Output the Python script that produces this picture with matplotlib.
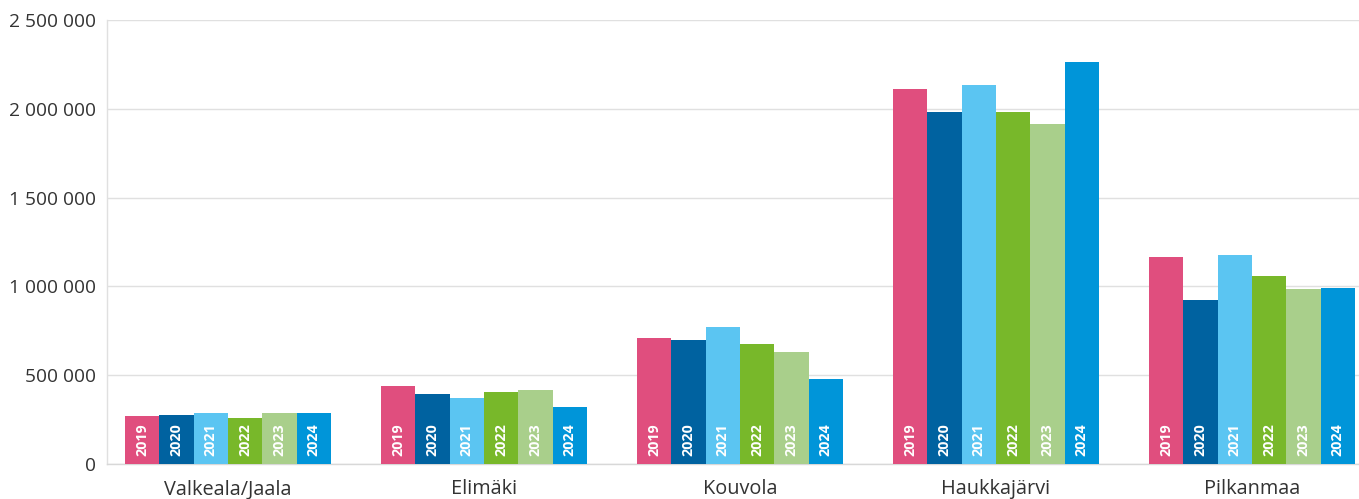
import matplotlib
matplotlib.use("Agg")
import matplotlib.pyplot as plt
import numpy as np
from matplotlib.ticker import FuncFormatter

plt.rcParams['font.family'] = ['Open Sans', 'DejaVu Sans']

categories = ["Valkeala/Jaala", "Elimäki", "Kouvola", "Haukkajärvi", "Pilkanmaa"]
years = ["2019", "2020", "2021", "2022", "2023", "2024"]
values = {
    "2019": [270000, 439000, 709000, 2111000, 1166000],
    "2020": [276000, 394000, 698000, 1982000, 923000],
    "2021": [285000, 372000, 771000, 2134000, 1177000],
    "2022": [259000, 405000, 676000, 1982000, 1059000],
    "2023": [285000, 417000, 631000, 1914000, 985000],
    "2024": [285000, 321000, 479000, 2264000, 991000],
}
colors = ["#E04E7E", "#0062A0", "#5BC5F2", "#78B82A", "#A9CF8B", "#0095D9"]
yticks = [0, 500000, 1000000, 1500000, 2000000, 2500000]

W, H = 1359, 499
fig = plt.figure(figsize=(W/100, H/100), dpi=100)
ax = fig.add_axes([107/W, (H-464)/H, (W-107)/W, (464-20)/H])

x = np.arange(len(categories))
bw = 0.134
n = len(years)
for i, (yr, c) in enumerate(zip(years, colors)):
    pos = x + (i - (n-1)/2) * bw
    ax.bar(pos, values[yr], width=bw, color=c, zorder=3, linewidth=0)
    for p in pos:
        ax.annotate(yr, (p, 0), xytext=(0, 5.5), textcoords='offset points',
                    rotation=90, ha='center', va='bottom', color='white',
                    fontsize=10.3, fontweight='bold', zorder=4)

ax.set_xlim((107-228)/256, (W-228)/256)
ax.set_ylim(0, 2500000)
ax.set_yticks(yticks)
ax.yaxis.set_major_formatter(FuncFormatter(lambda v, _: f"{int(v):,}".replace(",", " ")))
ax.set_xticks(x)
ax.set_xticklabels(categories)
ax.tick_params(axis='both', length=0, colors='#333333')
ax.tick_params(axis='y', pad=8, labelsize=13.8)
ax.tick_params(axis='x', pad=11, labelsize=14.3)
ax.grid(axis='y', color='#e0e0e0', linewidth=1, zorder=0)
for s in ['top', 'right']:
    ax.spines[s].set_visible(False)
ax.spines['left'].set_color('#e0e0e0')
ax.spines['bottom'].set_color('#d8d8d8')
ax.spines['left'].set_linewidth(1)
ax.spines['bottom'].set_linewidth(1)

fig.savefig("out.png", dpi=100)
